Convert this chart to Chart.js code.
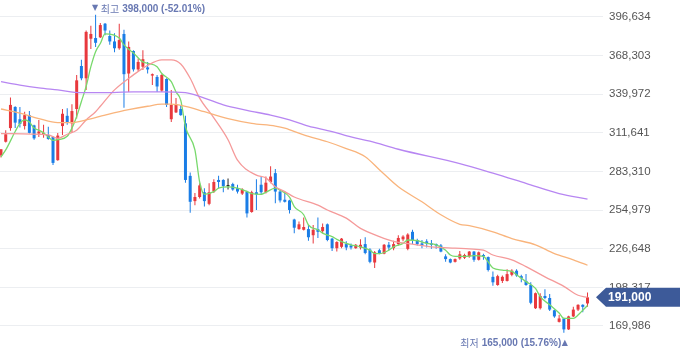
<!DOCTYPE html>
<html><head><meta charset="utf-8">
<script src="https://cdn.jsdelivr.net/npm/chart.js@4/dist/chart.umd.min.js"></script>
<style>html,body{margin:0;padding:0;background:#fff;overflow:hidden}canvas{display:block}</style>
</head><body>
<canvas id="c" width="680" height="358"></canvas>
<script>
const opens = [295000,305000,315000,330500,321500,316500,324500,317000,311000,310000,
310000,308500,291500,316500,324000,318500,329000,360500,351500,380500,
381000,381500,391500,382500,378500,373500,384000,355000,371500,358000,
360000,359500,353500,352500,342500,351000,321500,326500,329000,318500,
280000,261500,264500,268000,259500,268500,277000,277000,272500,274000,
271000,267000,268500,253500,268000,273500,268000,275500,282000,268500,
262500,262000,248000,241000,240500,241000,236500,241000,239500,244500,
234000,227000,228000,230000,229000,227000,227500,230000,226000,216500,
225500,223000,229500,227000,230000,233500,226500,239000,233000,230500,
232000,230500,230000,229000,221000,219000,217000,219500,220000,221000,
224500,218500,222000,220500,206000,200000,203000,203000,207500,210500,
206500,203000,200000,183000,183000,192000,190500,181500,173000,175500,
167500,177000,182000,185500,186500];
const highs = [299500,313500,337500,331000,330500,327000,327500,317500,321000,317500,
316000,309000,311500,329000,329500,332500,354000,365000,386500,390000,
398000,392000,392000,386500,384500,391500,387000,378500,372000,366000,
372000,363500,355000,354000,354500,351500,343000,337000,332000,324000,
282500,267500,274500,271000,274500,277500,280000,277500,278000,275000,
273500,271000,269000,269000,277500,279500,279500,287000,285000,269500,
268500,262500,248500,246500,249500,244000,244000,249500,245000,245000,
234500,232000,234500,232000,230500,230000,233500,235000,227000,225000,
226500,230000,231500,232500,236500,236500,238000,240500,234000,233000,
233500,233000,230500,230000,222500,219500,219500,225000,223000,225000,
225000,224500,223000,221000,210000,207500,207000,211500,211500,211500,
207500,208000,202000,194500,194000,197000,193500,182000,178000,176000,
177500,184000,186000,186000,194500];
const lows = [293500,304500,313000,315000,315500,314000,311000,306500,308500,308000,
306500,288000,291000,310000,317500,311500,322000,350000,343000,373000,
374500,381000,383000,376000,370500,372500,330000,341500,356500,356500,
357500,355000,346500,341500,341500,330500,319500,326000,324000,275000,
253000,258500,263500,257500,258500,267500,271000,268000,270000,269000,
267000,266000,249500,253000,255000,266000,267000,274500,260000,260500,
260500,252500,238000,240500,240000,232500,230500,234500,238000,232000,
225000,224500,227000,225500,226000,226500,226000,222500,216000,212500,
222500,222500,225500,225500,229000,232000,225500,230000,229000,227000,
227500,226500,226500,224000,217000,216000,216500,218500,219000,220000,
217000,218000,218500,210000,199500,199500,201500,202500,206500,206000,
202000,199500,186000,182500,182000,189500,181000,176000,172500,165000,
167000,176500,181000,180000,184000];
const closes = [299500,310500,332000,319000,318000,324500,311500,307500,312500,311500,
307000,289500,309500,325500,319000,327500,350000,351500,385500,384000,
377500,390500,386500,378500,373500,379500,354500,374500,358000,363500,
365500,358000,354500,345500,354000,332000,332000,332000,324500,277000,
261000,264500,273000,261500,268000,275500,275500,272500,272500,270000,
268500,270000,252500,268000,266500,268000,275000,279500,268500,262000,
261000,255000,242000,244500,242500,235000,240500,239000,242500,233000,
227000,231500,234000,227500,227500,229500,229500,223500,217000,224000,
223000,229500,227500,230000,234500,235500,237000,233000,230000,229000,
230500,229500,229000,224500,219000,216500,219000,222500,222000,224500,
218500,224000,221000,211000,202000,206500,206000,208000,210500,207000,
205000,200000,187000,194000,192000,190500,182000,177000,175500,167500,
177000,182000,185500,184000,191000];

// moving-average lines (candle index -> value)
const ma5Idx = [0,1,3,4,5,6,7,8,9,10,11,12,14,15,16,17,18,19,20,21,22,25,26,28,30,31,33,34,36,37,38,39,41,42,43,45,46,48,50,52,53,55,56,58,59,61,62,64,65,67,68,70,71,73,74,76,78,79,80,82,83,85,86,88,90,92,94,95,96,98,100,102,103,104,106,108,109,111,113,114,116,118,119,121,122,123,124];
const ma5 = [294000,299000,312500,318500,321000,319500,315000,313500,311500,308500,306000,306500,309000,315000,323500,334500,345500,360000,371000,377000,384000,381000,376000,370000,363500,362500,360000,355000,349000,341500,335500,316000,299000,275500,266500,268500,271000,272000,271000,268500,267000,266500,268000,271000,269500,264500,257500,251500,244000,240500,238000,235500,233500,230500,229500,228000,225500,223000,223000,225500,228000,230500,233000,232500,230500,229500,225500,222000,221000,221000,221500,221000,217000,212500,211000,210000,207500,202500,197500,191500,185500,179500,175500,175500,178000,181500,185000];
const ma20Idx = [0,10,12,14,16,18,20,21,24,28,31,34,36,38,40,42,45,48,50,54,56,58,60,62,67,69,73,76,80,83,87,91,96,99,102,104,108,111,115,119,122,124];
const ma20 = [311000,310000,307500,310500,313500,321000,327000,331000,343000,354000,361000,365000,365000,362000,351500,337000,322500,306500,291500,280500,278500,272000,268500,264500,258500,255000,249000,241500,235500,232000,230000,228000,227000,226500,225500,222000,218500,213500,206000,199000,192500,191000];
const ma60Idx = [0,4,8,12,15,18,22,27,31,34,36,39,43,48,53,58,60,64,69,73,77,80,84,89,93,97,99,104,108,113,117,121,124];
const ma60 = [329000,326000,322000,319000,319000,321000,324500,328500,331000,332500,332500,331000,327000,322000,318500,316500,315000,310000,305000,300000,294000,284500,272000,261000,251500,244500,243500,239000,234000,229500,223000,218500,214500];
const ma120Idx = [0,4,8,12,17,21,28,34,39,43,47,52,57,61,65,70,74,78,84,97,104,111,118,124];
const ma120 = [349000,346500,344500,343000,341000,341000,341500,341500,341000,337000,332000,328000,324500,321000,316500,312500,308500,305500,299500,289000,282000,274500,267000,263000];

const yTicks = [169986,198317,226648,254979,283310,311641,339972,368303,396634];
const highLabel = '최고';
const lowLabel = '최저';

const UP = '#e8383d', DOWN = '#1a7de6', FLAT = '#222222', NOTE = '#6878b2';
const colors = closes.map((c,i) => c > opens[i] ? UP : (c < opens[i] ? DOWN : FLAT));
const idx = closes.map((_, i) => i);
const wickData = idx.map(i => ({x: i, y: [lows[i], highs[i]]}));
const bodyData = idx.map(i => ({x: i, y: [opens[i], closes[i]]}));
const pts = (ix, v) => ix.map((x, k) => ({x, y: v[k]}));
function lineDs(ix, v, color) {
  return {type: 'line', data: pts(ix, v), borderColor: color, borderWidth: 1.3,
    pointRadius: 0, cubicInterpolationMode: 'monotone', fill: false, order: 0};
}
const fmt = v => v.toLocaleString('en-US');

const annot = {
  id: 'annot',
  afterDraw(chart) {
    const c = chart.ctx, xs = chart.scales.x, ys = chart.scales.y;
    let hi = 0, lo = 0;
    highs.forEach((h, i) => { if (h > highs[hi]) hi = i; });
    lows.forEach((l, i) => { if (l < lows[lo]) lo = i; });
    const last = closes[closes.length - 1];
    const pct = v => ((last - v) / v * 100).toFixed(2);
    c.save();
    c.fillStyle = NOTE; c.textBaseline = 'middle'; c.textAlign = 'left';
    // top: highest
    let x = xs.getPixelForValue(hi) - 3.5, y = 9;
    c.font = '8px "DejaVu Sans"'; c.fillText('▼', x, y - 1); x += c.measureText('▼').width + 2.5;
    c.font = '10px "Noto Sans CJK KR"'; c.fillText(highLabel, x, y); x += c.measureText(highLabel).width + 3;
    c.font = 'bold 10px "Liberation Sans", Arial'; c.fillText(fmt(highs[hi]) + ' (' + pct(highs[hi]) + '%)', x, y);
    // bottom: lowest
    c.textAlign = 'right';
    x = xs.getPixelForValue(lo) + 4; y = 343;
    c.font = '8px "DejaVu Sans"'; c.fillText('▲', x, y); x -= c.measureText('▲').width + 0.5;
    c.font = 'bold 10px "Liberation Sans", Arial';
    const t = fmt(lows[lo]) + ' (' + pct(lows[lo]) + '%)';
    c.fillText(t, x, y); x -= c.measureText(t).width + 3;
    c.font = '10px "Noto Sans CJK KR"'; c.fillText(lowLabel, x, y);
    // price tag
    const yc = ys.getPixelForValue(last);
    const left = chart.chartArea.right - 4;
    c.fillStyle = '#3d5a99';
    c.beginPath();
    c.moveTo(left, yc);
    c.lineTo(left + 10, yc - 9.5);
    c.lineTo(chart.width, yc - 9.5);
    c.lineTo(chart.width, yc + 9.5);
    c.lineTo(left + 10, yc + 9.5);
    c.closePath(); c.fill();
    c.fillStyle = '#ffffff'; c.textAlign = 'left';
    c.font = 'bold 12px "Liberation Sans", Arial';
    c.fillText(fmt(last), left + 12, yc + 0.5);
    c.restore();
  }
};

new Chart(document.getElementById('c'), {
  type: 'bar',
  data: {
    datasets: [
      {data: wickData, backgroundColor: colors, barThickness: 1, grouped: false, order: 2, borderWidth: 0, inflateAmount: 0},
      {data: bodyData, backgroundColor: colors, barThickness: 3, grouped: false, order: 1, borderWidth: 0, minBarLength: 1, inflateAmount: 0},
      lineDs(ma120Idx, ma120, '#b786f2'),
      lineDs(ma60Idx, ma60, '#f9b47c'),
      lineDs(ma20Idx, ma20, '#f59a9a'),
      lineDs(ma5Idx, ma5, '#78d96c')
    ]
  },
  options: {
    responsive: false, devicePixelRatio: 1, animation: false,
    layout: {padding: 0},
    plugins: {legend: {display: false}, tooltip: {enabled: false}},
    scales: {
      x: {type: 'linear', min: -0.21, max: 126.64, offset: false, display: false},
      y: {
        position: 'right', min: 146530, max: 408872,
        afterBuildTicks: s => { s.ticks = yTicks.map(v => ({value: v})); },
        afterFit: s => { s.width = 80; s.paddingTop = 0; s.paddingBottom = 0; },
        grid: {color: '#eceef1', tickLength: 3},
        border: {display: false},
        ticks: {padding: 6, color: '#555555', font: {family: '"Liberation Sans", Arial', size: 11.5},
          callback: v => fmt(v)}
      }
    }
  },
  plugins: [annot]
});
</script>
</body></html>
